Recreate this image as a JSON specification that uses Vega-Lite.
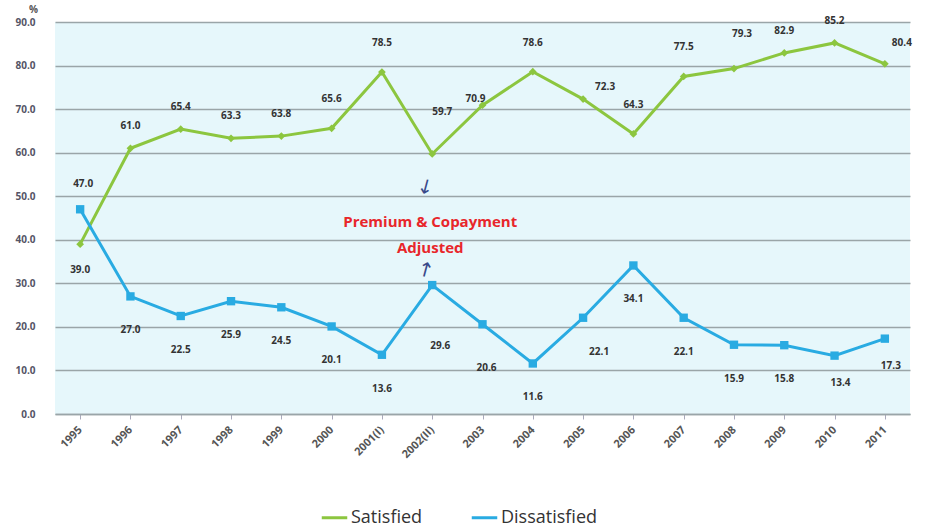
{
  "$schema": "https://vega.github.io/schema/vega-lite/v6.json",
  "autosize": "none",
  "width": 855,
  "height": 392,
  "padding": {"left": 55, "top": 22, "right": 42, "bottom": 117},
  "background": "white",
  "config": {
    "view": {"fill": "#e6f7fb", "stroke": null},
    "font": "Open Sans"
  },
  "datasets": {
    "survey": [
      {"year": "1995", "series": "Satisfied", "value": 39.0},
      {"year": "1996", "series": "Satisfied", "value": 61.0},
      {"year": "1997", "series": "Satisfied", "value": 65.4},
      {"year": "1998", "series": "Satisfied", "value": 63.3},
      {"year": "1999", "series": "Satisfied", "value": 63.8},
      {"year": "2000", "series": "Satisfied", "value": 65.6},
      {"year": "2001(I)", "series": "Satisfied", "value": 78.5},
      {"year": "2002(II)", "series": "Satisfied", "value": 59.7},
      {"year": "2003", "series": "Satisfied", "value": 70.9},
      {"year": "2004", "series": "Satisfied", "value": 78.6},
      {"year": "2005", "series": "Satisfied", "value": 72.3},
      {"year": "2006", "series": "Satisfied", "value": 64.3},
      {"year": "2007", "series": "Satisfied", "value": 77.5},
      {"year": "2008", "series": "Satisfied", "value": 79.3},
      {"year": "2009", "series": "Satisfied", "value": 82.9},
      {"year": "2010", "series": "Satisfied", "value": 85.2},
      {"year": "2011", "series": "Satisfied", "value": 80.4},
      {"year": "1995", "series": "Dissatisfied", "value": 47.0},
      {"year": "1996", "series": "Dissatisfied", "value": 27.0},
      {"year": "1997", "series": "Dissatisfied", "value": 22.5},
      {"year": "1998", "series": "Dissatisfied", "value": 25.9},
      {"year": "1999", "series": "Dissatisfied", "value": 24.5},
      {"year": "2000", "series": "Dissatisfied", "value": 20.1},
      {"year": "2001(I)", "series": "Dissatisfied", "value": 13.6},
      {"year": "2002(II)", "series": "Dissatisfied", "value": 29.6},
      {"year": "2003", "series": "Dissatisfied", "value": 20.6},
      {"year": "2004", "series": "Dissatisfied", "value": 11.6},
      {"year": "2005", "series": "Dissatisfied", "value": 22.1},
      {"year": "2006", "series": "Dissatisfied", "value": 34.1},
      {"year": "2007", "series": "Dissatisfied", "value": 22.1},
      {"year": "2008", "series": "Dissatisfied", "value": 15.9},
      {"year": "2009", "series": "Dissatisfied", "value": 15.8},
      {"year": "2010", "series": "Dissatisfied", "value": 13.4},
      {"year": "2011", "series": "Dissatisfied", "value": 17.3}
    ],
    "note": [
      {"year": "2002(II)", "value": 44.0, "text": "Premium & Copayment"},
      {"year": "2002(II)", "value": 38.0, "text": "Adjusted"}
    ],
    "arrows": [
      {"year": "2002(II)", "value": 51.5, "glyph": "↓"},
      {"year": "2002(II)", "value": 32.5, "glyph": "↑"}
    ]
  },
  "encoding": {
    "x": {
      "field": "year", "type": "ordinal",
      "sort": ["1995","1996","1997","1998","1999","2000","2001(I)","2002(II)","2003","2004","2005","2006","2007","2008","2009","2010","2011"],
      "scale": {"type": "point", "padding": 0.5},
      "axis": {
        "title": null, "labelAngle": -45, "labelAlign": "right", "labelBaseline": "middle",
        "labelFontSize": 11, "labelFontWeight": "bold", "labelColor": "#555",
        "labelPadding": 9, "tickColor": "#aab", "tickSize": 5, "domainColor": "#9aa5a8",
        "domainWidth": 1.5, "grid": false
      }
    },
    "y": {
      "field": "value", "type": "quantitative",
      "scale": {"domain": [0, 90], "nice": false},
      "axis": {
        "values": [0,10,20,30,40,50,60,70,80,90], "format": ".1f",
        "title": "%", "titleAngle": 0, "titleX": -22, "titleY": -8, "titleFontSize": 10,
        "titleFontWeight": "bold", "titleColor": "#555",
        "labelFontSize": 10, "labelFontWeight": "bold", "labelColor": "#556",
        "labelPadding": 20, "ticks": false, "domain": false,
        "gridColor": "#9aa5a8", "gridWidth": 1.5
      }
    }
  },
  "layer": [
    {
      "data": {"name": "survey"},
      "mark": {"type": "line", "strokeWidth": 3},
      "encoding": {
        "color": {
          "field": "series", "type": "nominal",
          "scale": {"domain": ["Satisfied", "Dissatisfied"], "range": ["#8cc63f", "#29abe2"]},
          "legend": {
            "orient": "none", "legendX": 265, "legendY": 481, "direction": "horizontal",
            "title": null, "symbolType": "stroke", "symbolStrokeWidth": 3, "symbolSize": 650,
            "labelFontSize": 18, "labelColor": "#333", "labelFont": "Open Sans",
            "columnPadding": 42, "labelOffset": 2
          }
        }
      }
    },
    {
      "data": {"name": "survey"},
      "transform": [{"filter": "datum.series === 'Satisfied'"}],
      "mark": {"type": "point", "shape": "diamond", "filled": true, "size": 60, "color": "#8cc63f", "opacity": 1}
    },
    {
      "data": {"name": "survey"},
      "transform": [{"filter": "datum.series === 'Dissatisfied'"}],
      "mark": {"type": "point", "shape": "square", "filled": true, "size": 70, "color": "#29abe2", "opacity": 1}
    },
    {
      "data": {"name": "survey"},
      "transform": [{"filter": {"and": [{"field": "series", "equal": "Satisfied"}, {"field": "year", "oneOf": ["1996","1997","1998","1999","2009","2010"]}]}}],
      "mark": {"type": "text", "dy": -22, "fontSize": 10, "fontWeight": "bold", "color": "#333"},
      "encoding": {"text": {"field": "value", "format": ".1f"}}
    },
    {
      "data": {"name": "survey"},
      "transform": [{"filter": {"and": [{"field": "series", "equal": "Satisfied"}, {"field": "year", "oneOf": ["2000","2001(I)","2004","2006","2007"]}]}}],
      "mark": {"type": "text", "dy": -29, "fontSize": 10, "fontWeight": "bold", "color": "#333"},
      "encoding": {"text": {"field": "value", "format": ".1f"}}
    },
    {
      "data": {"name": "survey"},
      "transform": [{"filter": {"and": [{"field": "series", "equal": "Satisfied"}, {"field": "year", "oneOf": ["2008"]}]}}],
      "mark": {"type": "text", "dy": -35, "dx": 8, "fontSize": 10, "fontWeight": "bold", "color": "#333"},
      "encoding": {"text": {"field": "value", "format": ".1f"}}
    },
    {
      "data": {"name": "survey"},
      "transform": [{"filter": {"and": [{"field": "series", "equal": "Satisfied"}, {"field": "year", "oneOf": ["1995"]}]}}],
      "mark": {"type": "text", "dy": 26, "fontSize": 10, "fontWeight": "bold", "color": "#333"},
      "encoding": {"text": {"field": "value", "format": ".1f"}}
    },
    {
      "data": {"name": "survey"},
      "transform": [{"filter": {"and": [{"field": "series", "equal": "Satisfied"}, {"field": "year", "oneOf": ["2002(II)"]}]}}],
      "mark": {"type": "text", "dy": -42, "dx": 10, "fontSize": 10, "fontWeight": "bold", "color": "#333"},
      "encoding": {"text": {"field": "value", "format": ".1f"}}
    },
    {
      "data": {"name": "survey"},
      "transform": [{"filter": {"and": [{"field": "series", "equal": "Satisfied"}, {"field": "year", "oneOf": ["2003"]}]}}],
      "mark": {"type": "text", "dy": -6, "dx": -7, "fontSize": 10, "fontWeight": "bold", "color": "#333"},
      "encoding": {"text": {"field": "value", "format": ".1f"}}
    },
    {
      "data": {"name": "survey"},
      "transform": [{"filter": {"and": [{"field": "series", "equal": "Satisfied"}, {"field": "year", "oneOf": ["2005"]}]}}],
      "mark": {"type": "text", "dy": -12, "dx": 22, "fontSize": 10, "fontWeight": "bold", "color": "#333"},
      "encoding": {"text": {"field": "value", "format": ".1f"}}
    },
    {
      "data": {"name": "survey"},
      "transform": [{"filter": {"and": [{"field": "series", "equal": "Satisfied"}, {"field": "year", "oneOf": ["2011"]}]}}],
      "mark": {"type": "text", "dy": -21, "dx": 17, "fontSize": 10, "fontWeight": "bold", "color": "#333"},
      "encoding": {"text": {"field": "value", "format": ".1f"}}
    },
    {
      "data": {"name": "survey"},
      "transform": [{"filter": {"and": [{"field": "series", "equal": "Dissatisfied"}, {"field": "year", "oneOf": ["1996","1997","1998","1999","2000","2001(I)","2004","2006","2007","2008","2009"]}]}}],
      "mark": {"type": "text", "dy": 34, "fontSize": 10, "fontWeight": "bold", "color": "#333"},
      "encoding": {"text": {"field": "value", "format": ".1f"}}
    },
    {
      "data": {"name": "survey"},
      "transform": [{"filter": {"and": [{"field": "series", "equal": "Dissatisfied"}, {"field": "year", "oneOf": ["1995"]}]}}],
      "mark": {"type": "text", "dy": -25, "dx": 3, "fontSize": 10, "fontWeight": "bold", "color": "#333"},
      "encoding": {"text": {"field": "value", "format": ".1f"}}
    },
    {
      "data": {"name": "survey"},
      "transform": [{"filter": {"and": [{"field": "series", "equal": "Dissatisfied"}, {"field": "year", "oneOf": ["2002(II)"]}]}}],
      "mark": {"type": "text", "dy": 61, "dx": 8, "fontSize": 10, "fontWeight": "bold", "color": "#333"},
      "encoding": {"text": {"field": "value", "format": ".1f"}}
    },
    {
      "data": {"name": "survey"},
      "transform": [{"filter": {"and": [{"field": "series", "equal": "Dissatisfied"}, {"field": "year", "oneOf": ["2003"]}]}}],
      "mark": {"type": "text", "dy": 44, "dx": 4, "fontSize": 10, "fontWeight": "bold", "color": "#333"},
      "encoding": {"text": {"field": "value", "format": ".1f"}}
    },
    {
      "data": {"name": "survey"},
      "transform": [{"filter": {"and": [{"field": "series", "equal": "Dissatisfied"}, {"field": "year", "oneOf": ["2005"]}]}}],
      "mark": {"type": "text", "dy": 34, "dx": 16, "fontSize": 10, "fontWeight": "bold", "color": "#333"},
      "encoding": {"text": {"field": "value", "format": ".1f"}}
    },
    {
      "data": {"name": "survey"},
      "transform": [{"filter": {"and": [{"field": "series", "equal": "Dissatisfied"}, {"field": "year", "oneOf": ["2010", "2011"]}]}}],
      "mark": {"type": "text", "dy": 27, "dx": 6, "fontSize": 10, "fontWeight": "bold", "color": "#333"},
      "encoding": {"text": {"field": "value", "format": ".1f"}}
    },
    {
      "data": {"name": "note"},
      "mark": {"type": "text", "fontSize": 15, "fontWeight": "bold", "color": "#e8262b", "dx": -2},
      "encoding": {"text": {"field": "text"}}
    },
    {
      "data": {"name": "arrows"},
      "mark": {"type": "text", "font": "DejaVu Sans", "fontSize": 20, "color": "#3a4a8a", "dx": -7, "angle": 15},
      "encoding": {"text": {"field": "glyph"}}
    }
  ]
}
